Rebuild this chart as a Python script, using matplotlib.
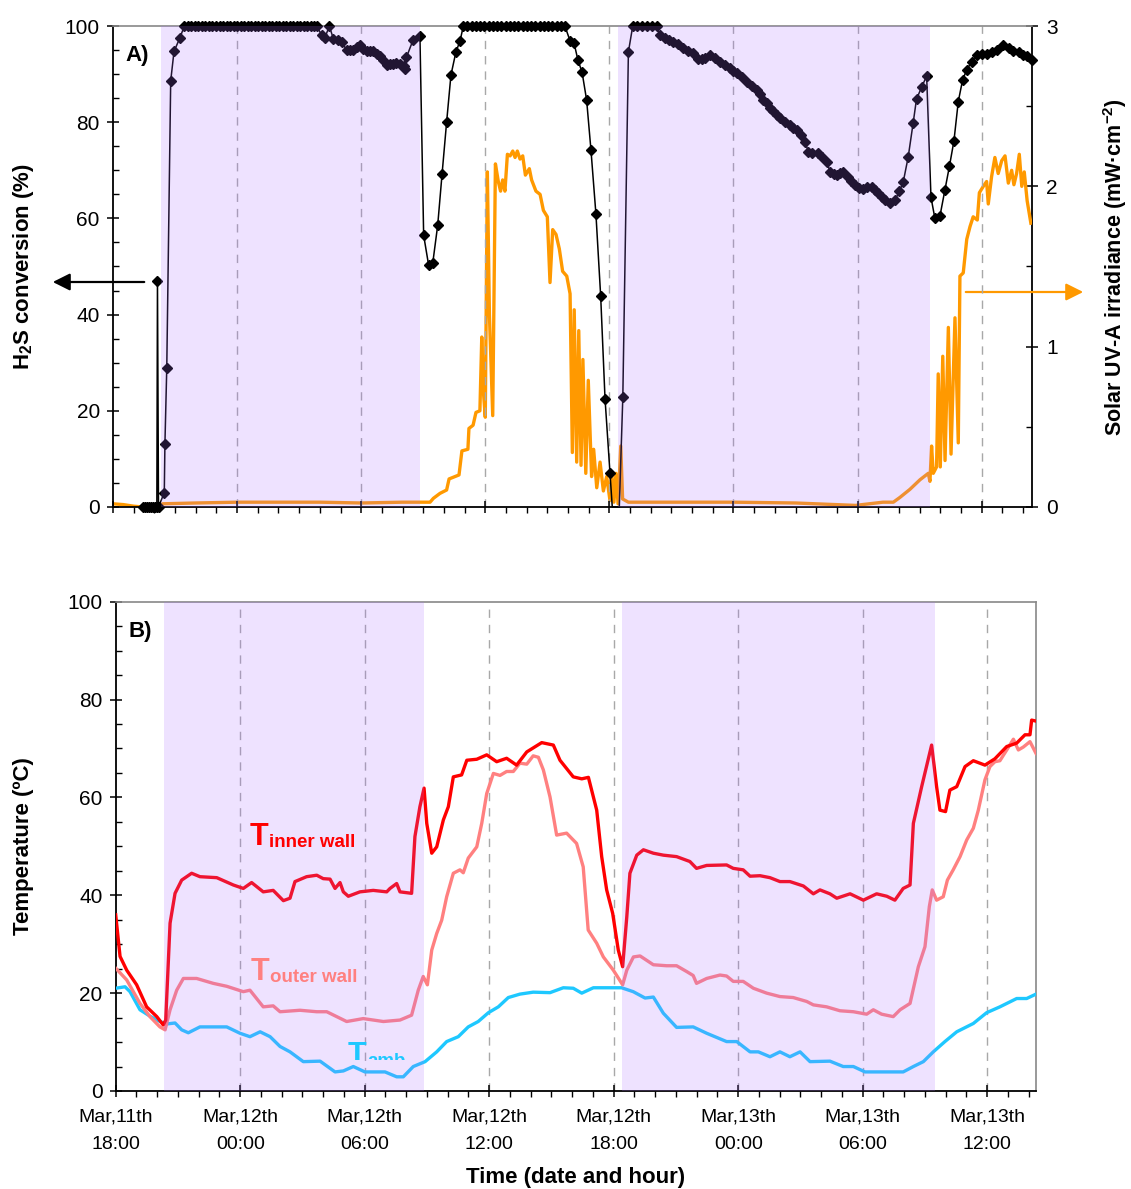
import matplotlib
matplotlib.use("Agg")
import matplotlib.pyplot as plt
from matplotlib.ticker import MultipleLocator
from matplotlib.transforms import Bbox, TransformedBbox
from matplotlib.patches import FancyArrowPatch
from matplotlib import font_manager

# ---------------- DATA (time in hours after Mar 11th 18:00) ----------------
h2s_time = [1.45, 1.55, 1.65, 1.75, 1.85, 1.95, 2.05, 2.12, 2.15, 2.2, 2.48, 2.51, 2.6, 2.79, 2.95, 3.24,
            3.45, 3.62, 3.79, 3.96, 4.13, 4.3, 4.47, 4.64, 4.81, 4.98, 5.15, 5.32, 5.49, 5.66, 5.83, 6.0,
            6.17, 6.34, 6.51, 6.68, 6.85, 7.02, 7.19, 7.36, 7.53, 7.7, 7.87, 8.04, 8.21, 8.38, 8.55, 8.72,
            8.89, 9.06, 9.23, 9.4, 9.57, 9.74, 9.85,
            10.09, 10.25, 10.46, 10.65, 10.86, 11.06, 11.3, 11.46, 11.62, 11.8, 11.94, 12.1, 12.27, 12.43,
            12.59, 12.75, 12.91, 13.07, 13.23, 13.4, 13.55, 13.7, 13.88, 14.05, 14.12, 14.19, 14.5, 14.84,
            15.02, 15.26, 15.46, 15.7, 15.91, 16.13, 16.34, 16.58, 16.78,
            16.94, 17.14, 17.35, 17.55, 17.76, 17.96, 18.17, 18.37, 18.58, 18.78, 18.99, 19.19, 19.4,
            19.6, 19.81, 20.01, 20.22, 20.42, 20.63, 20.83, 21.04, 21.24, 21.45, 21.65, 21.85,
            22.1, 22.29, 22.48, 22.68, 22.9, 23.11, 23.35, 23.58, 23.79, 24.03, 24.14, 24.48, 24.65, 24.92,
            25.13, 25.36, 25.6, 25.83, 26.06, 26.29,
            26.45, 26.7, 26.9, 27.09, 27.3, 27.57, 27.8, 28.06, 28.3, 28.5, 28.62, 28.86, 29.1, 29.35, 29.6,
            29.83, 30.0, 30.16, 30.4, 30.64, 30.9, 31.12, 31.28, 31.44, 31.6, 31.77, 31.93, 32.1, 32.25,
            32.5, 32.73, 32.9, 33.06, 33.25, 33.46, 33.62, 33.8, 34.1, 34.3, 34.51, 34.67, 34.85, 34.99,
            35.15, 35.31, 35.55, 35.7, 35.88, 36.08, 36.28, 36.48, 36.68, 36.85, 37.0, 37.17, 37.33, 37.57,
            37.81, 38.02, 38.21, 38.45, 38.69, 38.85, 39.1, 39.34,
            39.55, 39.74, 39.98, 40.23, 40.44, 40.66, 40.87, 41.08, 41.28, 41.52, 41.76, 42.0, 42.24, 42.5,
            42.73, 43.05, 43.3, 43.53, 43.8, 44.01, 44.2, 44.42]
h2s_conv = [0, 0, 0, 0, 0, 0, 0, 0, 47, 0, 3.0, 13.0, 29.0, 88.6, 94.7, 97.6,
            100, 100, 100, 100, 100, 100, 100, 100, 100, 100, 100, 100, 100, 100, 100, 100,
            100, 100, 100, 100, 100, 100, 100, 100, 100, 100, 100, 100, 100, 100, 100, 100,
            100, 100, 100, 100, 100, 100, 100,
            98.1, 97.6, 100, 97.4, 97.0, 96.6, 95.0, 95.0, 95.1, 95.6, 96.0, 95.2, 94.7, 94.8,
            94.7, 94.2, 93.7, 93.0, 91.9, 92.2, 92.1, 92.3, 92.0, 91.6, 91.0, 93.5, 97.0, 98.0,
            56.5, 50.3, 50.7, 58.6, 69.2, 80.0, 89.8, 94.6, 96.9,
            100, 100, 100, 100, 100, 100, 100, 100, 100, 100, 100, 100, 100,
            100, 100, 100, 100, 100, 100, 100, 100, 100, 100, 100, 100,
            96.9, 96.5, 92.9, 90.4, 84.6, 74.2, 60.9, 43.8, 22.5, 7.0, 0, 0, 22.8, 94.6,
            100, 100, 100, 100, 100, 100,
            98.1, 97.5, 97.0, 96.7, 96.2, 95.4, 94.8, 94.3, 93.1, 93.1, 93.3, 94.0, 93.3, 92.6, 91.9,
            91.2, 90.6, 90.2, 89.3, 88.4, 87.5, 86.7, 85.8, 84.6, 84.0, 82.9, 82.3, 81.6, 80.8,
            80.1, 79.4, 78.8, 78.4, 77.3, 75.9, 73.9, 73.7, 73.5, 72.7, 71.8, 69.7, 69.3, 69.0,
            69.4, 69.7, 68.7, 67.8, 66.9, 66.4, 66.2, 66.5, 66.6, 65.9, 65.2, 64.5, 63.8, 63.1,
            63.8, 65.6, 67.6, 72.8, 79.9, 84.8, 87.3, 89.6,
            64.4, 60.0, 60.4, 66.0, 70.8, 76.1, 84.3, 88.8, 90.9, 92.6, 94.0, 94.1, 94.2, 94.6,
            95.0, 96.0, 95.4, 94.8, 94.5, 94.0, 93.8, 93.0]
# samples drawn as line only (no marker) around the Mar 12th 18:00 minimum
h2s_unmarked = [24.14, 24.48]

uv_time = [0, 0.5, 1.0, 1.45, 2.2, 2.4, 4, 6, 8, 10, 12, 14, 14.84, 15.33, 15.49, 15.81, 16.13, 16.25,
           16.73, 16.87, 17.16, 17.21, 17.41, 17.55, 17.74, 17.83, 17.92, 18.0, 18.1, 18.2, 18.36, 18.49,
           18.63, 18.74, 18.84, 18.95, 19.07, 19.2, 19.33, 19.44, 19.55, 19.68, 19.81, 19.94, 20.13, 20.24,
           20.45, 20.65, 20.81, 21.0, 21.13, 21.26, 21.42, 21.58, 21.74, 21.94, 22.1, 22.21, 22.3, 22.42,
           22.52, 22.63, 22.72, 22.86, 22.98, 23.14, 23.24, 23.39, 23.55, 23.71, 23.87, 24.03, 24.11,
           24.22, 24.32, 24.42, 24.55, 24.64, 24.92, 27, 30, 33, 35.9, 37.23, 37.73, 38.05, 38.53, 39.02,
           39.42, 39.5, 39.58, 39.66, 39.82, 39.9, 40.0, 40.12, 40.23, 40.39, 40.52, 40.71, 40.87, 40.95,
           41.11, 41.28, 41.44, 41.59, 41.79, 41.89, 42.08, 42.24, 42.32, 42.48, 42.64, 42.8, 42.97,
           43.13, 43.29, 43.45, 43.56, 43.69, 43.82, 43.94, 44.06, 44.2, 44.38]
uv_irr = [0.02, 0.015, 0.005, 0.0, 0.0, 0.02, 0.025, 0.03, 0.03, 0.03, 0.025, 0.03, 0.03, 0.03, 0.054,
          0.085, 0.106, 0.175, 0.2, 0.35, 0.36, 0.49, 0.51, 0.59, 0.6, 1.06, 0.7, 0.56, 2.09, 1.2, 0.57,
          2.14, 2.03, 1.97, 2.04, 1.97, 2.2, 2.19, 2.22, 2.18, 2.22, 2.17, 2.19, 2.07, 2.11, 2.04,
          1.97, 1.95, 1.85, 1.81, 1.40, 1.73, 1.70, 1.61, 1.47, 1.44, 1.33, 0.34, 1.23, 0.28,
          1.10, 0.26, 0.92, 0.21, 0.79, 0.19, 0.36, 0.12, 0.28, 0.10, 0.19, 0.04, 0.22,
          0.03, 0.21, 0.02, 0.38, 0.05, 0.03, 0.03, 0.03, 0.025, 0.01, 0.03, 0.03, 0.06, 0.11, 0.17,
          0.21, 0.16, 0.38, 0.21, 0.25, 0.83, 0.25, 0.94, 0.29, 1.12, 0.33, 1.18, 0.40, 1.44,
          1.46, 1.67, 1.75, 1.81, 1.79, 1.96, 2.0, 2.03, 1.89, 2.06, 2.18, 2.08, 2.16,
          2.19, 2.02, 2.1, 2.01, 2.08, 2.2, 2.0, 2.09, 1.91, 1.77]

t_inner_time = [0, 0.21, 0.53, 1.01, 1.49, 1.98, 2.29, 2.41, 2.62, 2.86, 3.18, 3.66, 4.06, 4.87, 5.67, 6.15,
                6.55, 7.11, 7.59, 8.08, 8.4, 8.64, 9.2, 9.69, 10.0, 10.33, 10.57, 10.81, 10.97, 11.21, 11.77,
                12.41, 13.06, 13.22, 13.54, 13.7, 14.26, 14.42, 14.66, 14.86, 14.99, 15.23, 15.47, 15.79,
                16.03, 16.27, 16.67, 16.92, 17.4, 17.88, 18.36, 18.84, 19.32, 19.81, 20.53, 21.09, 21.41,
                22.05, 22.46, 22.78, 23.18, 23.42, 23.66, 23.95, 24.22, 24.43, 24.63, 24.78, 25.11, 25.43,
                25.91, 26.39, 27.03, 27.67, 27.99, 28.48, 29.44, 29.76, 30.24, 30.57, 31.05, 31.53, 32.01,
                32.49, 33.14, 33.62, 33.94, 34.42, 34.75, 35.39, 36.03, 36.67, 37.16, 37.55, 37.95, 38.28,
                38.44, 38.84, 39.32, 39.56, 39.72, 39.99, 40.2, 40.53, 40.93, 41.33, 41.89, 42.37, 42.94,
                43.42, 43.82, 44.06, 44.14, 44.35]
t_inner = [36, 27.5, 24.7, 21.7, 17.2, 15.2, 13.5, 14.5, 34.3, 40.4, 43.1, 44.5, 43.8, 43.6, 42.1, 41.4,
           42.6, 40.7, 41.0, 38.9, 39.4, 42.8, 43.8, 44.1, 43.4, 43.3, 41.4, 42.6, 40.7, 39.8, 40.7,
           41.0, 40.7, 41.4, 42.4, 40.7, 40.4, 52.0, 58.1, 61.9, 54.7, 48.6, 49.9, 55.4,
           58.1, 64.2, 64.6, 67.6, 67.8, 68.7, 67.3, 68.0, 66.6, 69.3, 71.2, 70.7, 67.6,
           64.2, 63.8, 64.1, 57.4, 47.9, 41.1, 36.3, 28.8, 25.4, 35.6, 44.5, 48.2, 49.3,
           48.6, 48.2, 47.9, 46.9, 45.5, 46.1, 46.2, 45.5, 45.2, 43.9, 44.0, 43.6, 42.8,
           42.8, 41.9, 40.3, 41.1, 40.3, 39.4, 40.3, 39.0, 40.3, 39.8, 39.0, 41.4, 42.1,
           54.7, 62.2, 70.7, 62.2, 57.4, 57.1, 61.5, 62.2, 66.3, 67.5, 66.6, 67.9, 70.4,
           71.1, 72.8, 72.8, 75.8, 75.6]

t_outer_time = [0, 0.53, 1.17, 1.65, 2.13, 2.38, 2.62, 2.94, 3.26, 3.9, 4.7, 5.35, 6.15, 6.47, 7.11, 7.59,
                7.92, 8.88, 9.69, 10.17, 11.13, 11.93, 12.9, 13.7, 14.26, 14.58, 14.82, 15.02, 15.23, 15.47,
                15.71, 15.95, 16.27, 16.59, 16.75, 16.99, 17.4, 17.64, 17.88, 18.2, 18.52, 18.84, 19.16,
                19.48, 19.81, 20.12, 20.37, 20.61, 20.93, 21.25, 21.73, 22.21, 22.53, 22.77, 23.18, 23.5,
                23.98, 24.43, 24.63, 24.95, 25.27, 25.91, 26.55, 27.03, 27.52, 27.83, 27.99, 28.48, 29.12,
                29.44, 29.76, 30.24, 30.73, 31.37, 32.01, 32.65, 33.3, 33.62, 34.26, 34.9, 35.55, 36.19,
                36.51, 36.91, 37.47, 37.8, 38.28, 38.68, 39.0, 39.21, 39.35, 39.56, 39.88, 40.08, 40.36,
                40.69, 41.01, 41.33, 41.57, 41.89, 42.13, 42.37, 42.61, 42.94, 43.26, 43.5, 43.74, 44.06,
                44.35]
t_outer = [25.1, 22.7, 17.9, 15.2, 13.1, 12.5, 16.6, 20.6, 23.0, 23.0, 22.0, 21.4, 20.3, 20.6, 17.2, 17.4,
           16.2, 16.5, 16.2, 16.2, 14.2, 14.8, 14.2, 14.5, 15.5, 20.6, 23.4, 21.7, 28.8, 32.2,
           34.9, 39.7, 44.5, 45.2, 44.6, 47.6, 49.9, 54.7, 60.8, 64.9, 64.5, 65.3, 65.3,
           67.0, 66.8, 68.5, 68.2, 65.6, 60.1, 52.3, 52.7, 50.6, 45.8, 32.9, 30.2, 27.4,
           24.7, 21.7, 24.7, 27.4, 27.6, 25.8, 25.6, 25.6, 24.4, 23.6, 22.0, 23.0, 23.7,
           23.5, 22.4, 22.4, 21.0, 20.0, 19.3, 19.1, 18.3, 17.6, 17.2, 16.4, 16.2, 15.7,
           16.6, 15.7, 15.2, 16.6, 17.9, 25.4, 29.5, 37.7, 41.1, 39.0, 39.7, 43.1, 45.2,
           47.9, 51.3, 53.7, 57.4, 63.6, 66.3, 67.3, 67.5, 69.7, 71.9, 69.7, 70.3, 71.4,
           69.0]

t_amb_time = [0, 0.45, 0.69, 1.17, 1.65, 2.13, 2.46, 2.86, 3.18, 3.5, 4.06, 5.35, 5.99, 6.47, 6.96, 7.44,
              7.92, 8.4, 9.04, 9.85, 10.57, 10.97, 11.45, 12.01, 12.98, 13.54, 13.86, 14.34, 14.91, 15.47,
              15.95, 16.51, 16.99, 17.47, 17.96, 18.44, 18.92, 19.48, 20.12, 20.93, 21.57, 22.05, 22.46,
              23.02, 23.66, 24.38, 24.94, 25.51, 25.91, 26.39, 27.03, 27.83, 28.48, 29.44, 29.93, 30.57,
              30.97, 31.53, 32.01, 32.49, 32.98, 33.46, 34.42, 35.06, 35.55, 36.11, 36.99, 37.95, 38.44,
              38.92, 39.4, 39.96, 40.53, 41.33, 41.97, 42.61, 43.42, 43.9, 44.35]
t_amb = [21.0, 21.3, 20.3, 16.6, 15.3, 14.2, 13.7, 13.9, 12.5, 11.9, 13.1, 13.1, 11.8, 11.1, 12.1, 11.1,
         9.1, 8.0, 6.0, 6.1, 3.9, 4.1, 5.0, 3.9, 3.9, 2.9, 2.9, 5.0, 6.0, 8.0,
         10.1, 11.1, 13.1, 14.2, 16.0, 17.2, 19.1, 19.8, 20.2, 20.1, 21.1, 21.0, 20.0,
         21.1, 21.1, 21.1, 20.3, 19.0, 19.2, 15.9, 13.0, 13.1, 11.8, 10.1, 10.1, 8.0,
         8.0, 7.0, 8.0, 7.0, 8.0, 6.0, 6.1, 5.0, 5.0, 3.9, 3.9, 3.9, 5.0,
         6.0, 8.0, 10.1, 12.1, 13.8, 16.0, 17.2, 18.9, 18.9, 19.8]

night_start = [2.33, 24.4]
night_end = [14.85, 39.5]
tick_hours = [0, 6, 12, 18, 24, 30, 36, 42]
tick_labels = ["Mar,11th\n18:00", "Mar,12th\n00:00", "Mar,12th\n06:00", "Mar,12th\n12:00",
               "Mar,12th\n18:00", "Mar,13th\n00:00", "Mar,13th\n06:00", "Mar,13th\n12:00"]

# ---------------- STYLE ----------------
plt.rcParams['font.family'] = ['Liberation Sans', 'DejaVu Sans']
plt.rcParams['mathtext.fontset'] = 'custom'
plt.rcParams['mathtext.rm'] = 'Liberation Sans:bold'
plt.rcParams['mathtext.it'] = 'Liberation Sans:bold'
plt.rcParams['mathtext.bf'] = 'Liberation Sans:bold'
try:
    font_manager.findfont('Liberation Sans Narrow', fallback_to_default=False)
    NARROW = ['Liberation Sans Narrow', 'Liberation Sans']
    TICK_FS = 15
except Exception:
    NARROW = ['Liberation Sans']
    TICK_FS = 14

W, H = 1131, 1189
fig = plt.figure(figsize=(W / 100, H / 100), dpi=100)

def px_axes(x0, y0, x1, y1):
    return [x0 / W, 1 - y1 / H, (x1 - x0) / W, (y1 - y0) / H]

ax1 = fig.add_axes(px_axes(113, 26, 1031.7, 507))
ax1r = ax1.twinx()
ax2 = fig.add_axes(px_axes(115.7, 601.7, 1036, 1091))

XMAX = 44.42
SHADE = '#AA6EFF'
GRID = '#A8A8A8'

# ---- top panel ----
ax1.set_zorder(ax1r.get_zorder() + 1)
ax1.patch.set_visible(False)
ax1r.plot(uv_time, uv_irr, color='#FF9900', lw=2.4, zorder=3)
marked = [i for i, t in enumerate(h2s_time) if t not in h2s_unmarked]
ax1.plot(h2s_time, h2s_conv, color='black', lw=1.1, marker='D', ms=5.2, mfc='black', mec='black',
         markevery=marked, clip_on=False, zorder=3)
for s, e in zip(night_start, night_end):
    ax1.axvspan(s, e, color=SHADE, alpha=0.2, lw=0, zorder=10)
for h in tick_hours[1:]:
    ax1.axvline(h, color=GRID, lw=1, ls=(0, (6, 5)), zorder=1)

ax1.set_xlim(0, XMAX)
ax1.set_ylim(0, 100)
ax1r.set_ylim(0, 3)
ax1.set_xticks(tick_hours)
ax1.xaxis.set_minor_locator(MultipleLocator(1))
ax1.tick_params(axis='x', labelbottom=False)
ax1.yaxis.set_major_locator(MultipleLocator(20))
ax1.yaxis.set_minor_locator(MultipleLocator(5))
ax1r.yaxis.set_major_locator(MultipleLocator(1))
ax1r.yaxis.set_minor_locator(MultipleLocator(0.5))

# ---- bottom panel ----
ax2.plot(t_amb_time, t_amb, color='#1EC8FF', lw=2.4, zorder=3)
ax2.plot(t_outer_time, t_outer, color='#FF8080', lw=2.4, zorder=3)
ax2.plot(t_inner_time, t_inner, color='#FF0000', lw=2.4, zorder=3)
for s, e in zip(night_start, night_end):
    ax2.axvspan(s, e, color=SHADE, alpha=0.2, lw=0, zorder=10)
for h in tick_hours[1:]:
    ax2.axvline(h, color=GRID, lw=1, ls=(0, (6, 5)), zorder=1)
ax2.set_xlim(0, 44.35)
ax2.set_ylim(0, 100)
ax2.set_xticks(tick_hours)
ax2.set_xticklabels(tick_labels, family=NARROW, fontsize=TICK_FS)
ax2.xaxis.set_minor_locator(MultipleLocator(1))
ax2.yaxis.set_major_locator(MultipleLocator(20))
ax2.yaxis.set_minor_locator(MultipleLocator(5))

# ---- ticks & spines ----
for ax in (ax1, ax2):
    ax.tick_params(axis='y', which='major', direction='inout', length=9, width=1.1, labelsize=15, pad=5)
    ax.tick_params(axis='y', which='minor', direction='in', length=4.5, width=1.0)
    ax.tick_params(axis='x', which='major', direction='inout', length=9, width=1.1, pad=8)
    ax.tick_params(axis='x', which='minor', direction='out', length=4.5, width=1.0)
    ax.spines['left'].set_linewidth(1.3)
    ax.spines['bottom'].set_linewidth(1.3)
    ax.spines['top'].set_color('#888888')
    ax.spines['top'].set_linewidth(1.2)
ax1.spines['right'].set_visible(False)
ax2.spines['right'].set_color('#888888')
ax2.spines['right'].set_linewidth(1.2)
for sp in ('left', 'top', 'bottom'):
    ax1r.spines[sp].set_visible(False)
ax1r.spines['right'].set_linewidth(1.3)
ax1r.tick_params(axis='y', which='major', direction='inout', length=9, width=1.1, labelsize=15, pad=6)
ax1r.tick_params(axis='y', which='minor', direction='in', length=4.5, width=1.0)

for lab in ax2.get_xticklabels():
    lab.set_linespacing(1.8)

# ---- labels ----
fig.text(24 / W, 1 - 266.5 / H, 'H$_2$S conversion (%)', rotation=90, ha='center', va='center',
         fontsize=16, fontweight='bold')
fig.text(1115 / W, 1 - 267.5 / H, 'Solar UV-A irradiance (mW\u00b7cm$^{-2}$)', rotation=90,
         ha='center', va='center', fontsize=15.5, fontweight='bold')
fig.text(24 / W, 1 - 846 / H, 'Temperature (\u00baC)', rotation=90, ha='center', va='center',
         fontsize=16, fontweight='bold')
fig.text(576 / W, 1 - 1178 / H, 'Time (date and hour)', ha='center', va='center',
         fontsize=16, fontweight='bold', family=NARROW)
fig.text(125 / W, 1 - 55 / H, 'A)', ha='left', va='center', fontsize=16, fontweight='bold')
fig.text(129 / W, 1 - 632 / H, 'B)', ha='left', va='center', fontsize=16, fontweight='bold')

def sub_label(x, y_base, main, sub, color, clip=None):
    t1 = fig.text(x / W, 1 - y_base / H, main, fontsize=22, fontweight='bold', color=color,
                  ha='left', va='baseline')
    t2 = fig.text((x + 19) / W, 1 - (y_base + 2) / H, sub, fontsize=13.5, fontweight='bold',
                  color=color, ha='left', va='baseline')
    if clip is not None:
        cb = TransformedBbox(Bbox.from_extents(0, 1 - clip / H, 1, 1), fig.transFigure)
        for t in (t1, t2):
            t.set_clip_box(cb)
            t.set_clip_on(True)

sub_label(250, 845, 'T', 'inner wall', '#FF0000')
sub_label(251, 980, 'T', 'outer wall', '#FF8080')
sub_label(348, 1063.5, 'T', 'amb', '#1EC8FF', clip=1060)

# ---- arrows ----
fig.add_artist(FancyArrowPatch((147 / W, 1 - 282 / H), (50 / W, 1 - 282 / H),
               transform=fig.transFigure, arrowstyle='-|>', mutation_scale=26, color='black', lw=1.6))
fig.add_artist(FancyArrowPatch((963 / W, 1 - 292 / H), (1086 / W, 1 - 292 / H),
               transform=fig.transFigure, arrowstyle='-|>', mutation_scale=26, color='#FF9900', lw=1.6))

fig.savefig('out.png', dpi=100)
